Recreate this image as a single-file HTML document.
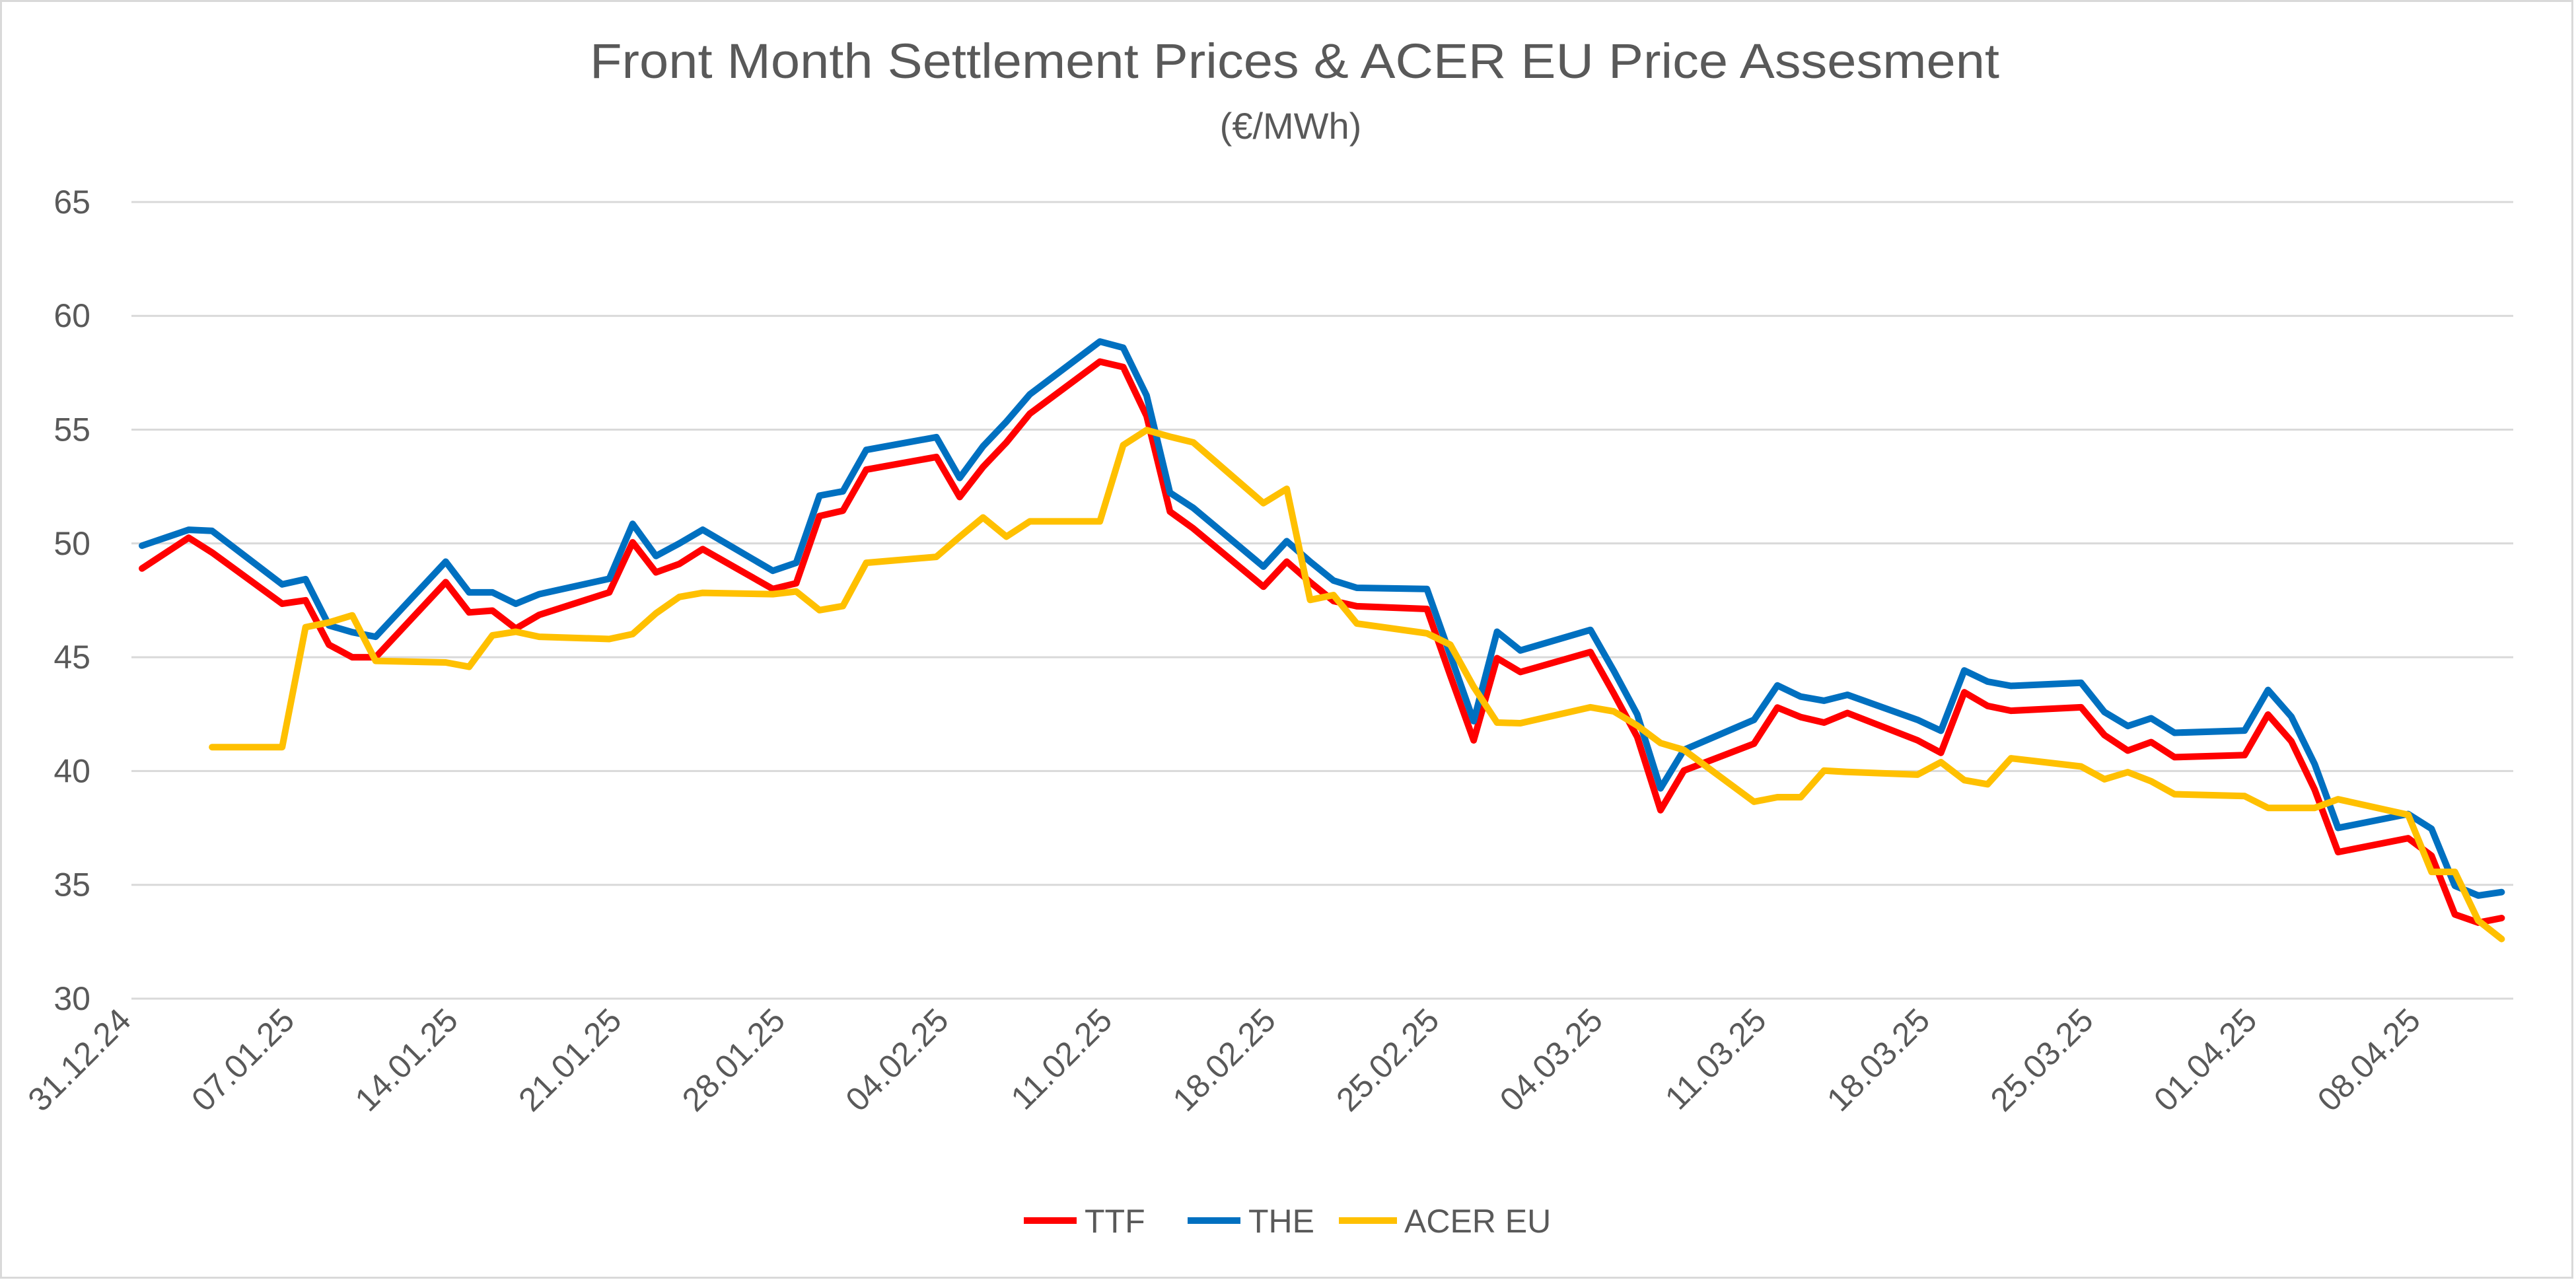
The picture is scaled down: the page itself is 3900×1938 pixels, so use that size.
<!DOCTYPE html>
<html><head><meta charset="utf-8"><style>html,body{margin:0;padding:0;background:#fff}svg{display:block}</style></head>
<body>
<svg id="chart" width="3900" height="1938" viewBox="0 0 3900 1938" xmlns="http://www.w3.org/2000/svg" font-family="Liberation Sans, sans-serif">
<rect x="1.5" y="1.5" width="3893" height="1933" fill="#fff" stroke="#d9d9d9" stroke-width="3"/>
<text x="1960" y="118" text-anchor="middle" font-size="74" fill="#595959" textLength="2134" lengthAdjust="spacingAndGlyphs">Front Month Settlement Prices &amp; ACER EU Price Assesment</text>
<text x="1954" y="210" text-anchor="middle" font-size="56" fill="#595959">(€/MWh)</text>
<g id="grid"></g><g id="xaxis"></g><g id="series"></g>
<g>
<line x1="1550" y1="1848" x2="1630" y2="1848" stroke="#ff0000" stroke-width="10"/>
<text x="1642" y="1866" font-size="50" fill="#595959">TTF</text>
<line x1="1798" y1="1848" x2="1878" y2="1848" stroke="#0070c0" stroke-width="10"/>
<text x="1890" y="1866" font-size="50" fill="#595959">THE</text>
<line x1="2027" y1="1848" x2="2115" y2="1848" stroke="#ffc000" stroke-width="10"/>
<text x="2126" y="1866" font-size="50" fill="#595959">ACER EU</text>
</g>
</svg>
<script>
const days=[0,2,3,6,7,8,9,10,13,14,15,16,17,20,21,22,23,24,27,28,29,30,31,34,35,36,37,38,41,42,43,44,45,48,49,50,51,52,55,56,57,58,59,62,63,64,65,66,69,70,71,72,73,76,77,78,79,80,83,84,85,86,87,90,91,92,93,94,97,98,99,100,101];
const ttf=[48.9,50.25,49.6,47.35,47.5,45.55,45.0,45.0,48.3,46.97,47.05,46.26,46.86,47.85,50.05,48.73,49.1,49.75,48.0,48.25,51.2,51.44,53.24,53.8,52.04,53.36,54.44,55.7,57.99,57.75,55.6,51.4,50.66,48.1,49.2,48.3,47.47,47.24,47.12,44.2,41.35,44.96,44.35,45.23,43.4,41.5,38.28,40.02,41.2,42.79,42.37,42.13,42.55,41.35,40.8,43.46,42.86,42.65,42.8,41.58,40.9,41.27,40.61,40.7,42.48,41.31,39.18,36.44,37.05,36.28,33.7,33.34,33.54];
const the=[49.9,50.6,50.55,48.2,48.43,46.4,46.1,45.9,49.2,47.85,47.85,47.35,47.77,48.45,50.86,49.45,50.0,50.6,48.8,49.15,52.1,52.29,54.11,54.67,52.88,54.27,55.35,56.55,58.87,58.6,56.5,52.23,51.56,48.98,50.1,49.2,48.37,48.05,48.0,45.1,42.19,46.12,45.3,46.2,44.4,42.49,39.24,40.93,42.25,43.76,43.27,43.09,43.35,42.25,41.77,44.42,43.93,43.74,43.88,42.59,41.98,42.32,41.68,41.78,43.56,42.39,40.3,37.5,38.11,37.46,34.96,34.53,34.68];
const acer=[null,null,41.05,41.05,46.32,46.53,46.84,44.84,44.77,44.58,45.96,46.12,45.9,45.8,46.02,46.93,47.65,47.83,47.77,47.89,47.07,47.25,49.15,49.41,50.29,51.14,50.3,50.97,50.97,54.32,54.98,54.69,54.44,51.77,52.4,47.52,47.73,46.48,46.05,45.55,43.7,42.13,42.1,42.8,42.62,42.0,41.23,40.93,38.65,38.85,38.85,40.02,39.96,39.84,40.39,39.6,39.42,40.56,40.2,39.64,39.95,39.55,38.98,38.9,38.38,38.38,38.38,38.76,38.08,35.57,35.57,33.43,32.62];
const yTicks=[30,35,40,45,50,55,60,65];
const xTickDays=[0,7,14,21,28,35,42,49,56,63,70,77,84,91,98];
const xTickLabels=["31.12.24","07.01.25","14.01.25","21.01.25","28.01.25","04.02.25","11.02.25","18.02.25","25.02.25","04.03.25","11.03.25","18.03.25","25.03.25","01.04.25","08.04.25"];

const NS="http://www.w3.org/2000/svg";
const X0=215,PX=35.37,Y30=1512,PY=34.46,PL=199,PR=3805;
const xs=d=>X0+d*PX, ys=v=>Y30-(v-30)*PY;
function mk(tag,attrs,parent){const e=document.createElementNS(NS,tag);for(const k in attrs)e.setAttribute(k,attrs[k]);parent.appendChild(e);return e;}
const grid=document.getElementById('grid');
yTicks.forEach(v=>{
  const l=mk('line',{x1:PL,x2:PR,y1:ys(v),y2:ys(v),stroke:'#d9d9d9','stroke-width':3},grid);
  
  
  const t=mk('text',{x:137,y:ys(v)+17,'text-anchor':'end','font-size':50,fill:'#595959'},grid);
  t.textContent=v;
  
  
});
const xa=document.getElementById('xaxis');
xTickDays.forEach((d,i)=>{
  const x=xs(d)-14,y=1548;
  const t=mk('text',{x:x,y:y,'text-anchor':'end','font-size':50,fill:'#595959',transform:`rotate(-45 ${x} ${y})`},xa);
  t.textContent=xTickLabels[i];
  
  
});
const sg=document.getElementById('series');
[[ttf,'#ff0000','ttf'],[the,'#0070c0','the'],[acer,'#ffc000','acer']].forEach(([vals,col,nm])=>{
  let d='';
  vals.forEach((v,i)=>{if(v==null)return;d+=(d?'L':'M')+xs(days[i]).toFixed(1)+' '+ys(v).toFixed(1);});
  const p=mk('path',{d:d,fill:'none',stroke:col,'stroke-width':10,'stroke-linejoin':'round','stroke-linecap':'round'},sg);
  
  
});
</script>
</body></html>
